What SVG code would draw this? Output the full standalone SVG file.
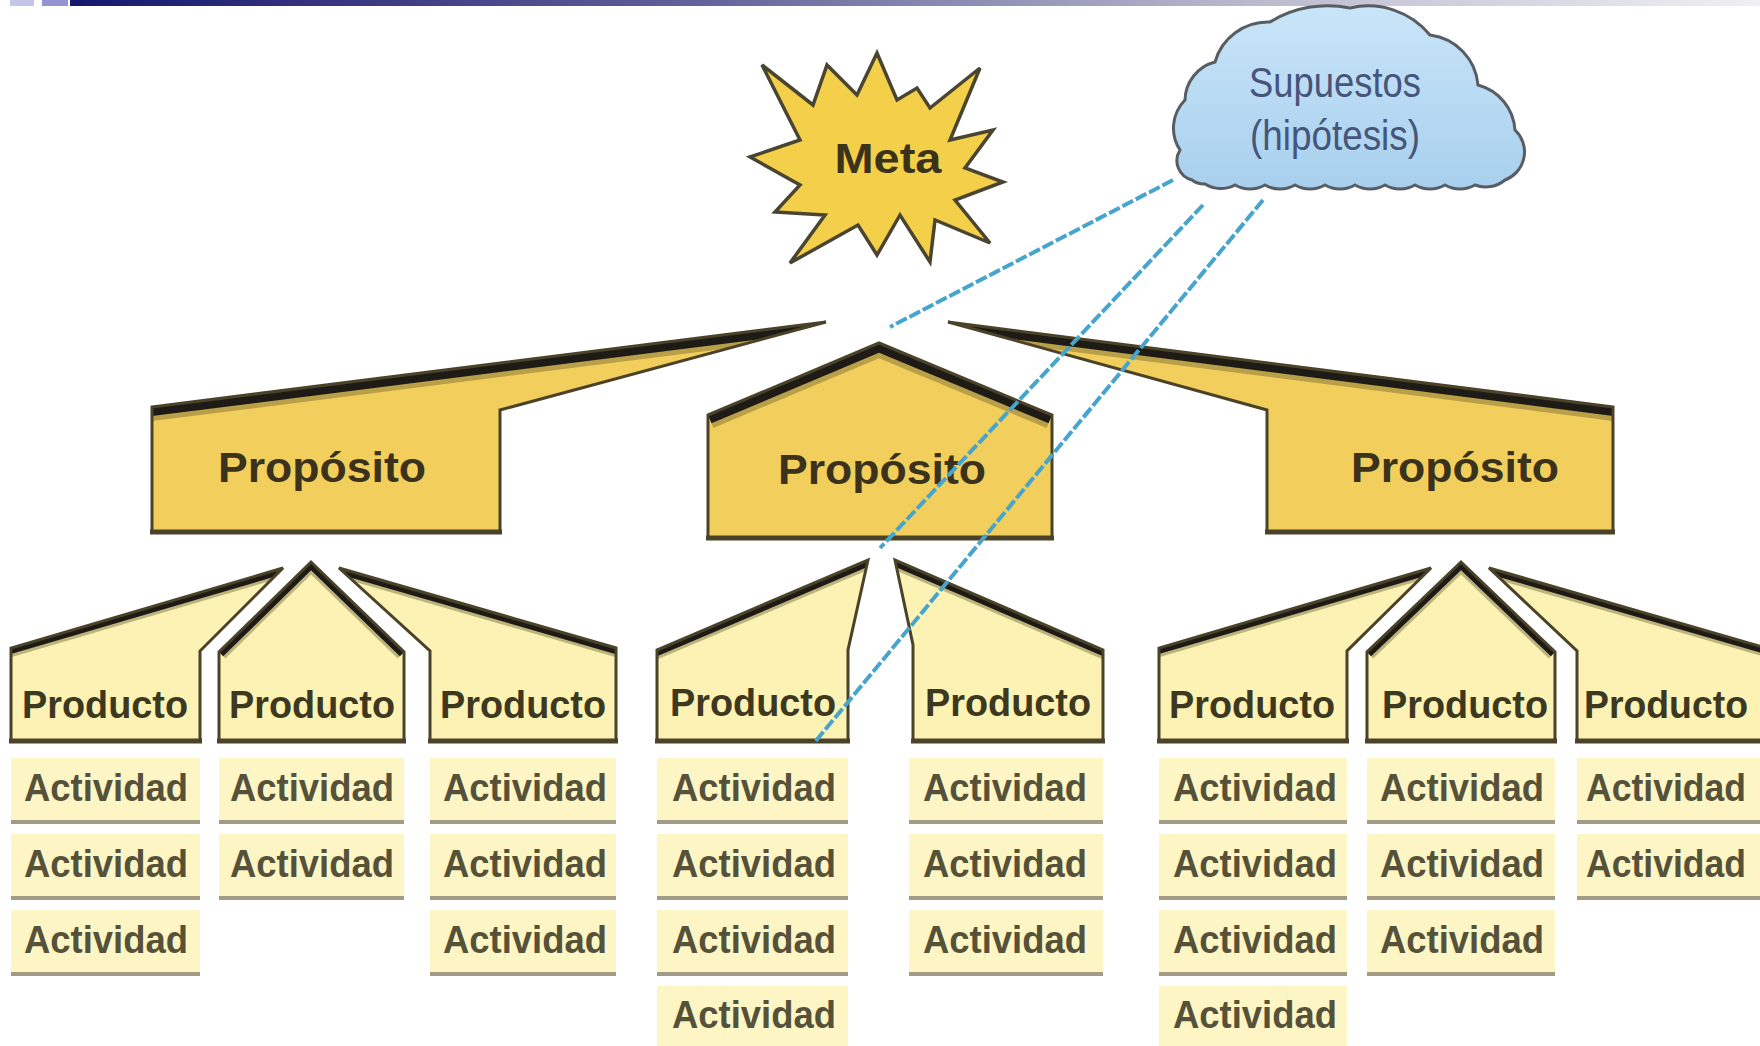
<svg xmlns="http://www.w3.org/2000/svg" width="1760" height="1046" viewBox="0 0 1760 1046">
<style>
.pf{fill:#f2cf5c}
.rf{fill:#fcf2b3}
.ol{fill:none;stroke:#4b4329;stroke-width:3;stroke-linejoin:miter;stroke-miterlimit:3}
.bd{fill:none;stroke:#1e1b16;stroke-width:18;stroke-linejoin:miter}
.bt{fill:none;stroke:#8b7838;stroke-width:28;stroke-opacity:.55;stroke-linejoin:miter}
.pbd{fill:none;stroke:#1e1b16;stroke-width:12;stroke-linejoin:miter}
.pbt{fill:none;stroke:#7e7445;stroke-width:18;stroke-opacity:.5;stroke-linejoin:miter}
.base{stroke:#4b4329;stroke-width:5}
.abg{fill:#fdf6c4}
.aln{fill:#a29c86}
.tP{font-family:"Liberation Sans",Arial,sans-serif;font-weight:bold;font-size:42px;fill:#3b321b;text-anchor:middle}
.tR{font-family:"Liberation Sans",Arial,sans-serif;font-weight:bold;font-size:38px;fill:#3d3820;text-anchor:middle}
.tA{font-family:"Liberation Sans",Arial,sans-serif;font-weight:bold;font-size:39px;fill:#56523a;text-anchor:middle}
.tC{font-family:"Liberation Sans",Arial,sans-serif;font-size:42px;fill:#46557a;text-anchor:middle}
.conn{fill:none;stroke:#45a5cf;stroke-width:4;stroke-dasharray:12 3}
</style>
<defs>
<linearGradient id="gBar" x1="0" y1="0" x2="1" y2="0">
<stop offset="0" stop-color="#16166e"/><stop offset="0.35" stop-color="#5d5d98"/><stop offset="0.7" stop-color="#babace"/><stop offset="1" stop-color="#f0f0f3"/>
</linearGradient>
<linearGradient id="gCloud" x1="0" y1="0" x2="0" y2="1">
<stop offset="0" stop-color="#c9e5f9"/><stop offset="1" stop-color="#a8d0ee"/>
</linearGradient>
<polygon id="sP1" points="152,407 826,322 500,410 500,532 152,532"/>
<polygon id="sP2" points="708,415 879,343 1052,415 1052,538 708,538"/>
<polygon id="sP3" points="1613,407 948,322 1267,410 1267,532 1613,532"/>
<polygon id="sL1" points="11,741 11,648 283,568 200,651 200,741"/>
<polygon id="sL2" points="219,741 219,652 311,562 404,652 404,741"/>
<polygon id="sL3" points="430,741 430,651 339,568 616,648 616,741"/>
<polygon id="sCA" points="657,741 657,650 868,560 848,650 848,741"/>
<polygon id="sCB" points="913,741 913,645 895,560 1103,650 1103,741"/>
<polygon id="sR1" points="1159,741 1159,648 1431,568 1347,651 1347,741"/>
<polygon id="sR2" points="1367,741 1367,652 1461,562 1555,652 1555,741"/>
<polygon id="sR3" points="1577,741 1577,651 1489,568 1766,648 1766,741"/>
<clipPath id="cP1"><use href="#sP1"/></clipPath>
<clipPath id="cP2"><use href="#sP2"/></clipPath>
<clipPath id="cP3"><use href="#sP3"/></clipPath>
<clipPath id="cL1"><use href="#sL1"/></clipPath>
<clipPath id="cL2"><use href="#sL2"/></clipPath>
<clipPath id="cL3"><use href="#sL3"/></clipPath>
<clipPath id="cCA"><use href="#sCA"/></clipPath>
<clipPath id="cCB"><use href="#sCB"/></clipPath>
<clipPath id="cR1"><use href="#sR1"/></clipPath>
<clipPath id="cR2"><use href="#sR2"/></clipPath>
<clipPath id="cR3"><use href="#sR3"/></clipPath>
</defs>

<rect x="0" y="0" width="1760" height="1046" fill="#ffffff"/>
<g id="topbar">
<rect x="70" y="0" width="1690" height="6" fill="url(#gBar)"/>
<rect x="10" y="0" width="24" height="6" fill="#c5c5ea"/>
<rect x="42" y="0" width="26" height="6" fill="#9494d4"/>
</g>

<g id="meta">
<polygon points="762,65 813,105 827,65 857,95 877,53 897,100 917,88 930,108 980,68 950,140 993,130 965,168 1003,182 955,200 990,243 935,220 930,262 900,215 877,255 858,225 790,263 825,215 775,212 800,185 750,157 800,140" fill="#f4cf4a" stroke="#4a4530" stroke-width="3.5" stroke-linejoin="miter"/>
<text class="tP" x="888" y="173" font-size="44" textLength="107" lengthAdjust="spacingAndGlyphs">Meta</text>
</g>

<g id="supuestos">
<path d="M1192,180 A20,20 0 0,1 1180,150 A40,40 0 0,1 1185,100 A40,40 0 0,1 1215,62 A55,55 0 0,1 1270,22 A110,110 0 0,1 1350,8 A80,80 0 0,1 1430,35 A55,55 0 0,1 1478,85 A50,50 0 0,1 1515,130 A30,30 0 0,1 1505,180 A30,30 0 0,1 1475,185 A30,30 0 0,1 1445,185 A30,30 0 0,1 1415,185 A30,30 0 0,1 1385,185 A30,30 0 0,1 1355,185 A30,30 0 0,1 1325,185 A30,30 0 0,1 1295,185 A30,30 0 0,1 1265,185 A30,30 0 0,1 1235,185 A30,30 0 0,1 1205,184 A20,20 0 0,1 1192,180 Z" fill="url(#gCloud)" stroke="#585d64" stroke-width="3"/>
<text class="tC" x="1335" y="97" textLength="172" lengthAdjust="spacingAndGlyphs">Supuestos</text>
<text class="tC" x="1335" y="150" textLength="170" lengthAdjust="spacingAndGlyphs">(hipótesis)</text>
</g>

<g id="proposito-1">
<use href="#sP1" class="pf"/>
<polyline clip-path="url(#cP1)" class="bt" points="140,408.5 840,320"/>
<polyline clip-path="url(#cP1)" class="bd" points="140,408.5 840,320"/>
<use href="#sP1" class="ol"/>
<line class="base" x1="150" y1="532" x2="502" y2="532"/>
<text class="tP" x="322" y="482" textLength="208" lengthAdjust="spacingAndGlyphs">Propósito</text>
</g>
<g id="proposito-2">
<use href="#sP2" class="pf"/>
<polyline clip-path="url(#cP2)" class="bt" points="708,415 879,343 1052,415"/>
<polyline clip-path="url(#cP2)" class="bd" points="708,415 879,343 1052,415"/>
<use href="#sP2" class="ol"/>
<line class="base" x1="706" y1="538" x2="1054" y2="538"/>
<text class="tP" x="882" y="484" textLength="208" lengthAdjust="spacingAndGlyphs">Propósito</text>
</g>
<g id="proposito-3">
<use href="#sP3" class="pf"/>
<polyline clip-path="url(#cP3)" class="bt" points="934,320 1626,408.5"/>
<polyline clip-path="url(#cP3)" class="bd" points="934,320 1626,408.5"/>
<use href="#sP3" class="ol"/>
<line class="base" x1="1265" y1="532" x2="1615" y2="532"/>
<text class="tP" x="1455" y="482" textLength="208" lengthAdjust="spacingAndGlyphs">Propósito</text>
</g>

<g id="producto-L1">
<use href="#sL1" class="rf"/>
<polyline clip-path="url(#cL1)" class="pbt" points="0,651 300,563"/>
<polyline clip-path="url(#cL1)" class="pbd" points="0,651 300,563"/>
<use href="#sL1" class="ol"/>
<line class="base" x1="9" y1="741" x2="202" y2="741"/>
<text class="tR" x="105" y="718" textLength="166" lengthAdjust="spacingAndGlyphs">Producto</text>
</g>
<g id="producto-L2">
<use href="#sL2" class="rf"/>
<polyline clip-path="url(#cL2)" class="pbt" points="219,652 311,562 404,652"/>
<polyline clip-path="url(#cL2)" class="pbd" points="219,652 311,562 404,652"/>
<use href="#sL2" class="ol"/>
<line class="base" x1="217" y1="741" x2="406" y2="741"/>
<text class="tR" x="312" y="718" textLength="166" lengthAdjust="spacingAndGlyphs">Producto</text>
</g>
<g id="producto-L3">
<use href="#sL3" class="rf"/>
<polyline clip-path="url(#cL3)" class="pbt" points="322,563 630,652"/>
<polyline clip-path="url(#cL3)" class="pbd" points="322,563 630,652"/>
<use href="#sL3" class="ol"/>
<line class="base" x1="428" y1="741" x2="618" y2="741"/>
<text class="tR" x="523" y="718" textLength="166" lengthAdjust="spacingAndGlyphs">Producto</text>
</g>
<g id="producto-CA">
<use href="#sCA" class="rf"/>
<polyline clip-path="url(#cCA)" class="pbt" points="640,657 885,553"/>
<polyline clip-path="url(#cCA)" class="pbd" points="640,657 885,553"/>
<use href="#sCA" class="ol"/>
<line class="base" x1="655" y1="741" x2="850" y2="741"/>
<text class="tR" x="753" y="716" textLength="166" lengthAdjust="spacingAndGlyphs">Producto</text>
</g>
<g id="producto-CB">
<use href="#sCB" class="rf"/>
<polyline clip-path="url(#cCB)" class="pbt" points="878,553 1120,657"/>
<polyline clip-path="url(#cCB)" class="pbd" points="878,553 1120,657"/>
<use href="#sCB" class="ol"/>
<line class="base" x1="911" y1="741" x2="1105" y2="741"/>
<text class="tR" x="1008" y="716" textLength="166" lengthAdjust="spacingAndGlyphs">Producto</text>
</g>
<g id="producto-R1">
<use href="#sR1" class="rf"/>
<polyline clip-path="url(#cR1)" class="pbt" points="1148,651 1448,563"/>
<polyline clip-path="url(#cR1)" class="pbd" points="1148,651 1448,563"/>
<use href="#sR1" class="ol"/>
<line class="base" x1="1157" y1="741" x2="1349" y2="741"/>
<text class="tR" x="1252" y="718" textLength="166" lengthAdjust="spacingAndGlyphs">Producto</text>
</g>
<g id="producto-R2">
<use href="#sR2" class="rf"/>
<polyline clip-path="url(#cR2)" class="pbt" points="1367,652 1461,562 1555,652"/>
<polyline clip-path="url(#cR2)" class="pbd" points="1367,652 1461,562 1555,652"/>
<use href="#sR2" class="ol"/>
<line class="base" x1="1365" y1="741" x2="1557" y2="741"/>
<text class="tR" x="1465" y="718" textLength="166" lengthAdjust="spacingAndGlyphs">Producto</text>
</g>
<g id="producto-R3">
<use href="#sR3" class="rf"/>
<polyline clip-path="url(#cR3)" class="pbt" points="1472,563 1780,652"/>
<polyline clip-path="url(#cR3)" class="pbd" points="1472,563 1780,652"/>
<use href="#sR3" class="ol"/>
<line class="base" x1="1575" y1="741" x2="1766" y2="741"/>
<text class="tR" x="1666" y="718" textLength="164" lengthAdjust="spacingAndGlyphs">Producto</text>
</g>

<g id="actividad-L1-1"><rect class="abg" x="11" y="758" width="189" height="62"/><rect class="aln" x="11" y="820" width="189" height="4"/><text class="tA" x="106" y="801" textLength="164" lengthAdjust="spacingAndGlyphs">Actividad</text></g>
<g id="actividad-L1-2"><rect class="abg" x="11" y="834" width="189" height="62"/><rect class="aln" x="11" y="896" width="189" height="4"/><text class="tA" x="106" y="877" textLength="164" lengthAdjust="spacingAndGlyphs">Actividad</text></g>
<g id="actividad-L1-3"><rect class="abg" x="11" y="910" width="189" height="62"/><rect class="aln" x="11" y="972" width="189" height="4"/><text class="tA" x="106" y="953" textLength="164" lengthAdjust="spacingAndGlyphs">Actividad</text></g>

<g id="actividad-L2-1"><rect class="abg" x="219" y="758" width="185" height="62"/><rect class="aln" x="219" y="820" width="185" height="4"/><text class="tA" x="312" y="801" textLength="164" lengthAdjust="spacingAndGlyphs">Actividad</text></g>
<g id="actividad-L2-2"><rect class="abg" x="219" y="834" width="185" height="62"/><rect class="aln" x="219" y="896" width="185" height="4"/><text class="tA" x="312" y="877" textLength="164" lengthAdjust="spacingAndGlyphs">Actividad</text></g>

<g id="actividad-L3-1"><rect class="abg" x="430" y="758" width="186" height="62"/><rect class="aln" x="430" y="820" width="186" height="4"/><text class="tA" x="525" y="801" textLength="164" lengthAdjust="spacingAndGlyphs">Actividad</text></g>
<g id="actividad-L3-2"><rect class="abg" x="430" y="834" width="186" height="62"/><rect class="aln" x="430" y="896" width="186" height="4"/><text class="tA" x="525" y="877" textLength="164" lengthAdjust="spacingAndGlyphs">Actividad</text></g>
<g id="actividad-L3-3"><rect class="abg" x="430" y="910" width="186" height="62"/><rect class="aln" x="430" y="972" width="186" height="4"/><text class="tA" x="525" y="953" textLength="164" lengthAdjust="spacingAndGlyphs">Actividad</text></g>

<g id="actividad-CA-1"><rect class="abg" x="657" y="758" width="191" height="62"/><rect class="aln" x="657" y="820" width="191" height="4"/><text class="tA" x="754" y="801" textLength="164" lengthAdjust="spacingAndGlyphs">Actividad</text></g>
<g id="actividad-CA-2"><rect class="abg" x="657" y="834" width="191" height="62"/><rect class="aln" x="657" y="896" width="191" height="4"/><text class="tA" x="754" y="877" textLength="164" lengthAdjust="spacingAndGlyphs">Actividad</text></g>
<g id="actividad-CA-3"><rect class="abg" x="657" y="910" width="191" height="62"/><rect class="aln" x="657" y="972" width="191" height="4"/><text class="tA" x="754" y="953" textLength="164" lengthAdjust="spacingAndGlyphs">Actividad</text></g>
<g id="actividad-CA-4"><rect class="abg" x="657" y="986" width="191" height="62"/><text class="tA" x="754" y="1028" textLength="164" lengthAdjust="spacingAndGlyphs">Actividad</text></g>

<g id="actividad-CB-1"><rect class="abg" x="909" y="758" width="194" height="62"/><rect class="aln" x="909" y="820" width="194" height="4"/><text class="tA" x="1005" y="801" textLength="164" lengthAdjust="spacingAndGlyphs">Actividad</text></g>
<g id="actividad-CB-2"><rect class="abg" x="909" y="834" width="194" height="62"/><rect class="aln" x="909" y="896" width="194" height="4"/><text class="tA" x="1005" y="877" textLength="164" lengthAdjust="spacingAndGlyphs">Actividad</text></g>
<g id="actividad-CB-3"><rect class="abg" x="909" y="910" width="194" height="62"/><rect class="aln" x="909" y="972" width="194" height="4"/><text class="tA" x="1005" y="953" textLength="164" lengthAdjust="spacingAndGlyphs">Actividad</text></g>

<g id="actividad-R1-1"><rect class="abg" x="1159" y="758" width="188" height="62"/><rect class="aln" x="1159" y="820" width="188" height="4"/><text class="tA" x="1255" y="801" textLength="164" lengthAdjust="spacingAndGlyphs">Actividad</text></g>
<g id="actividad-R1-2"><rect class="abg" x="1159" y="834" width="188" height="62"/><rect class="aln" x="1159" y="896" width="188" height="4"/><text class="tA" x="1255" y="877" textLength="164" lengthAdjust="spacingAndGlyphs">Actividad</text></g>
<g id="actividad-R1-3"><rect class="abg" x="1159" y="910" width="188" height="62"/><rect class="aln" x="1159" y="972" width="188" height="4"/><text class="tA" x="1255" y="953" textLength="164" lengthAdjust="spacingAndGlyphs">Actividad</text></g>
<g id="actividad-R1-4"><rect class="abg" x="1159" y="986" width="188" height="62"/><text class="tA" x="1255" y="1028" textLength="164" lengthAdjust="spacingAndGlyphs">Actividad</text></g>

<g id="actividad-R2-1"><rect class="abg" x="1367" y="758" width="188" height="62"/><rect class="aln" x="1367" y="820" width="188" height="4"/><text class="tA" x="1462" y="801" textLength="164" lengthAdjust="spacingAndGlyphs">Actividad</text></g>
<g id="actividad-R2-2"><rect class="abg" x="1367" y="834" width="188" height="62"/><rect class="aln" x="1367" y="896" width="188" height="4"/><text class="tA" x="1462" y="877" textLength="164" lengthAdjust="spacingAndGlyphs">Actividad</text></g>
<g id="actividad-R2-3"><rect class="abg" x="1367" y="910" width="188" height="62"/><rect class="aln" x="1367" y="972" width="188" height="4"/><text class="tA" x="1462" y="953" textLength="164" lengthAdjust="spacingAndGlyphs">Actividad</text></g>

<g id="actividad-R3-1"><rect class="abg" x="1577" y="758" width="183" height="62"/><rect class="aln" x="1577" y="820" width="183" height="4"/><text class="tA" x="1666" y="801" textLength="160" lengthAdjust="spacingAndGlyphs">Actividad</text></g>
<g id="actividad-R3-2"><rect class="abg" x="1577" y="834" width="183" height="62"/><rect class="aln" x="1577" y="896" width="183" height="4"/><text class="tA" x="1666" y="877" textLength="160" lengthAdjust="spacingAndGlyphs">Actividad</text></g>

<g id="connectors">
<line class="conn" x1="1173" y1="180" x2="890" y2="327"/>
<line class="conn" x1="1203" y1="205" x2="880" y2="548"/>
<line class="conn" x1="1263" y1="200" x2="815" y2="742"/>
</g>
</svg>
